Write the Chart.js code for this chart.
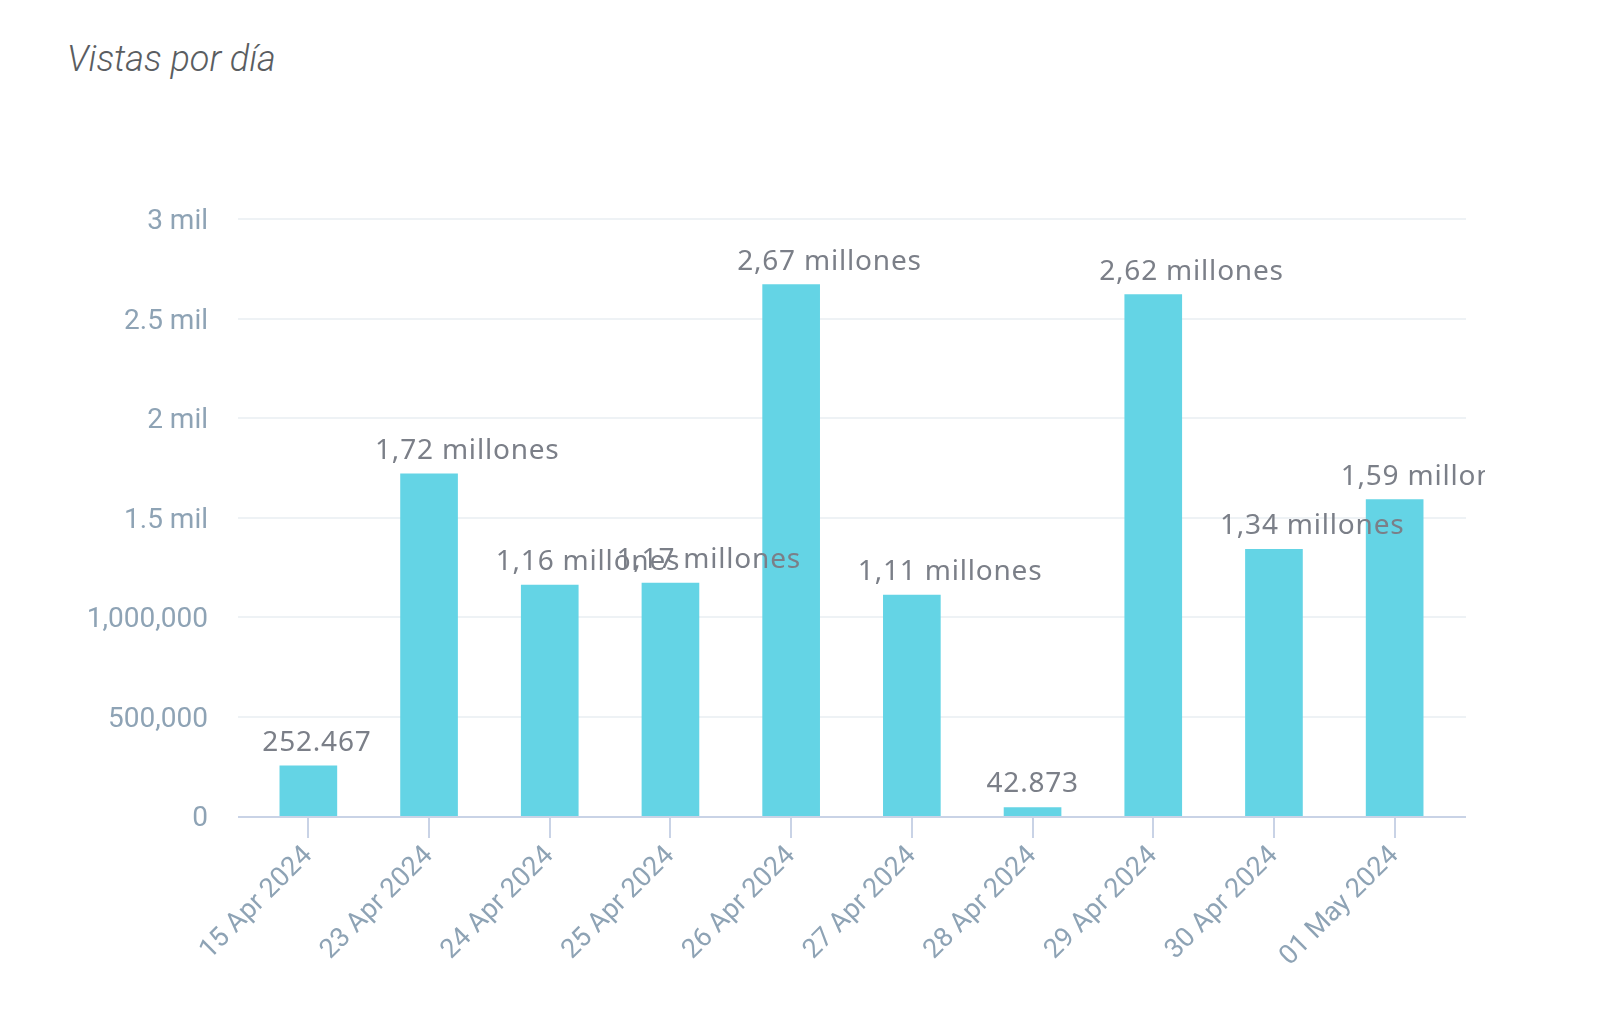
<!DOCTYPE html>
<html>
<head>
<meta charset="utf-8">
<script src="https://cdn.jsdelivr.net/npm/chart.js@4.4.1/dist/chart.umd.min.js"></script>
<style>
  html, body { margin: 0; padding: 0; background: #ffffff; }
  #wrap { position: relative; width: 1606px; height: 1022px; }
  #title { position: absolute; left: 67px; top: 38px; font-family: Roboto, sans-serif; font-style: italic; font-weight: 300; font-size: 36px; line-height: 42px; color: #5a5d61; white-space: nowrap; }
  canvas { position: absolute; left: 0; top: 0; }
</style>
</head>
<body>
<div id="wrap">
  <div id="title">Vistas por día</div>
  <canvas id="c" width="1606" height="1022"></canvas>
</div>
<script>
const categories = ["15 Apr 2024", "23 Apr 2024", "24 Apr 2024", "25 Apr 2024", "26 Apr 2024", "27 Apr 2024", "28 Apr 2024", "29 Apr 2024", "30 Apr 2024", "01 May 2024"];
const views = [252467, 1720000, 1160000, 1170000, 2670000, 1110000, 42873, 2620000, 1340000, 1590000];
const valueLabels = ["252.467", "1,72 millones", "1,16 millones", "1,17 millones", "2,67 millones", "1,11 millones", "42.873", "2,62 millones", "1,34 millones", "1,59 millones"];
const yTickValues = [0, 500000, 1000000, 1500000, 2000000, 2500000, 3000000];
const yTickLabels = ["0", "500,000", "1,000,000", "1.5 mil", "2 mil", "2.5 mil", "3 mil"];

const gridPlugin = {
  id: 'extGrid',
  beforeDatasetsDraw(chart) {
    const {ctx, chartArea} = chart;
    const y = chart.scales.y;
    ctx.save();
    y.ticks.forEach((t) => {
      const py = Math.round(y.getPixelForValue(t.value));
      if (t.value === 0) return;
      ctx.strokeStyle = '#eef2f5';
      ctx.lineWidth = 2;
      ctx.beginPath();
      ctx.moveTo(chartArea.left - 10, py);
      ctx.lineTo(chartArea.right + 11, py);
      ctx.stroke();
    });
    ctx.restore();
  },
  afterDatasetsDraw(chart) {
    const {ctx, chartArea} = chart;
    const y = chart.scales.y;
    const py = Math.round(y.getPixelForValue(0)) + 1;
    ctx.save();
    ctx.strokeStyle = '#c9d3e6';
    ctx.lineWidth = 2;
    ctx.beginPath();
    ctx.moveTo(chartArea.left - 10, py);
    ctx.lineTo(chartArea.right + 11, py);
    ctx.stroke();
    // value labels
    ctx.beginPath();
    ctx.rect(0, 0, 1485, chart.height);
    ctx.clip();
    ctx.font = '28px "Noto Sans", sans-serif';
    ctx.fillStyle = '#7b7f88';
    ctx.textAlign = 'left';
    ctx.textBaseline = 'alphabetic';
    try { ctx.letterSpacing = '0.8px'; } catch (e) {}
    const meta = chart.getDatasetMeta(0);
    meta.data.forEach((bar, i) => {
      const txt = valueLabels[i];
      const off = txt.indexOf('millones') >= 0 ? 54 : 46;
      ctx.fillText(txt, bar.x - off, bar.y - 15);
    });
    ctx.restore();
  }
};

new Chart(document.getElementById('c'), {
  type: 'bar',
  data: {
    labels: categories,
    datasets: [{
      data: views,
      backgroundColor: '#64d4e5',
      borderWidth: 0,
      barThickness: 57
    }]
  },
  options: {
    responsive: false,
    animation: false,
    devicePixelRatio: 1,
    layout: { padding: { top: 219, right: 151, left: 0, bottom: 0 } },
    plugins: { legend: { display: false }, tooltip: { enabled: false }, title: { display: false } },
    scales: {
      x: {
        offset: true,
        grid: { display: true, drawOnChartArea: false, drawTicks: true, offset: false, tickLength: 22, color: '#c9d3e6', lineWidth: 2 },
        border: { display: false },
        ticks: {
          minRotation: 45, maxRotation: 45, autoSkip: false, padding: 2,
          color: '#8ea3b5',
          font: { family: 'Roboto', size: 27 }
        },
        afterFit(scale) { scale.height = 206; }
      },
      y: {
        min: 0, max: 3000000,
        afterBuildTicks(scale) { scale.ticks = yTickValues.map(v => ({ value: v })); },
        grid: { display: false, drawTicks: false },
        border: { display: false },
        ticks: {
          padding: 40,
          labelOffset: 3,
          color: '#8ea3b5',
          font: { family: 'Roboto', size: 28 },
          callback(value) { const i = yTickValues.indexOf(value); return i >= 0 ? yTickLabels[i] : ''; }
        },
        afterFit(scale) { scale.width = 248; }
      }
    }
  },
  plugins: [gridPlugin]
});
</script>
</body>
</html>
